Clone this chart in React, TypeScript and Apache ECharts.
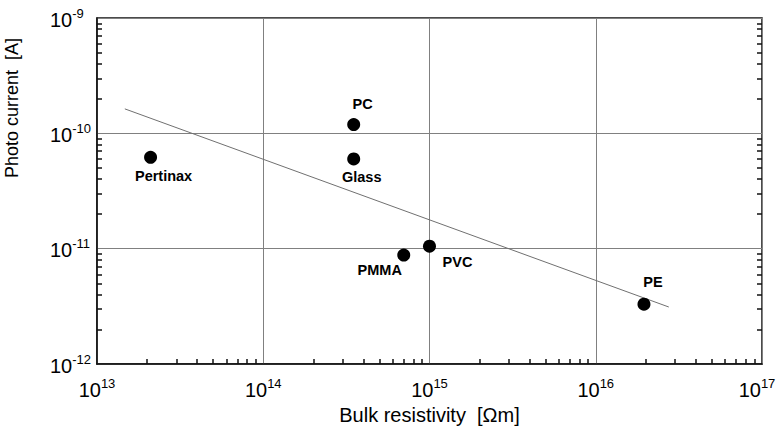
import React, { useEffect, useRef } from "react";
import * as echarts from "echarts";

const materials = ["Pertinax", "PC", "Glass", "PMMA", "PVC", "PE"];
const resistivity = [2.1e13, 3.5e14, 3.5e14, 7.0e14, 1.0e15, 1.95e16];
const photoCurrent = [6.2e-11, 1.19e-10, 6.0e-11, 8.8e-12, 1.05e-11, 3.3e-12];
const labelPos = ["bottom", "top", "bottom", "bottom", "bottom", "top"];
const labelOffset = [[13, 0], [9, -2], [8, -1], [-24, -4], [28, -3], [9, -3]];

const fitX = [1.47e13, 2.75e16];
const fitY = [1.63e-10, 3.12e-12];

const xDecades = [13, 14, 15, 16];
const yDecades = [-12, -11, -10];
const minorMult = [2, 3, 4, 5, 6, 7, 8, 9];

const X_MIN = 1e13, X_MAX = 1e17, Y_MIN = 1e-12, Y_MAX = 1e-9;

const FONT = "'Liberation Sans', Arial, Helvetica, sans-serif";

export default function App() {
  const ref = useRef<HTMLDivElement>(null);
  useEffect(() => {
    if (!ref.current) return;
    const chart = echarts.init(ref.current, null, { renderer: "svg" });

    const xMinor: number[] = [];
    xDecades.forEach((d) => minorMult.forEach((m) => xMinor.push(m * Math.pow(10, d))));
    const yMinor: number[] = [];
    yDecades.forEach((d) => minorMult.forEach((m) => yMinor.push(m * Math.pow(10, d))));

    const expLabel = (v: number) => {
      const e = Math.round(Math.log10(v));
      return e === 17 ? `{b|10}{s|${e}}{p|}` : `{b|10}{s|${e}}`;
    };
    const rich = {
      b: { fontSize: 20, fontFamily: FONT, color: "#000", padding: [3, 0, 0, 0] },
      s: { fontSize: 13, fontFamily: FONT, color: "#000", verticalAlign: "top" },
      p: { width: 10 },
    };
    const tickOnly = (vals: number[]) => ({
      show: true,
      inside: true,
      length: 5,
      customValues: vals,
      lineStyle: { color: "#111", width: 1.5 },
    });
    const hiddenParts = {
      axisLine: { show: false },
      axisLabel: { show: false },
      splitLine: { show: false },
      splitArea: { show: false },
    };

    const option: any = {
      animation: false,
      backgroundColor: "#fff",
      grid: {
        left: 97,
        right: 14,
        top: 18,
        bottom: 65,
        show: true,
        borderColor: "#111",
        borderWidth: 1.5,
        containLabel: false,
        outerBoundsMode: "none",
      },
      xAxis: [
        {
          type: "log",
          min: X_MIN,
          max: X_MAX,
          logBase: 10,
          name: "Bulk resistivity  [Ωm]",
          nameLocation: "middle",
          nameGap: 35,
          nameTextStyle: { fontSize: 20, fontFamily: FONT, color: "#000" },
          axisLine: { show: true, lineStyle: { color: "#111", width: 1.5 } },
          axisTick: { show: false },
          axisLabel: { formatter: expLabel, rich, margin: 13 },
          splitLine: { show: true, lineStyle: { color: "#808080", width: 1 } },
        },
        {
          type: "log",
          min: X_MIN,
          max: X_MAX,
          logBase: 10,
          position: "bottom",
          axisTick: tickOnly(xMinor),
          ...hiddenParts,
        },
      ],
      yAxis: [
        {
          type: "log",
          min: Y_MIN,
          max: Y_MAX,
          logBase: 10,
          position: "left",
          axisLine: { show: true, lineStyle: { color: "#111", width: 1.5 } },
          axisTick: { show: false },
          axisLabel: { formatter: expLabel, rich, margin: 47, align: "left" },
          splitLine: { show: true, lineStyle: { color: "#808080", width: 1 } },
        },
        {
          type: "log",
          min: Y_MIN,
          max: Y_MAX,
          logBase: 10,
          position: "left",
          axisTick: tickOnly(yMinor),
          ...hiddenParts,
        },
        {
          type: "log",
          min: Y_MIN,
          max: Y_MAX,
          logBase: 10,
          position: "right",
          axisTick: tickOnly(yMinor),
          ...hiddenParts,
        },
      ],
      graphic: [
        {
          type: "text",
          x: 12,
          y: 108,
          rotation: Math.PI / 2,
          style: {
            text: "Photo current  [A]",
            fontSize: 18,
            fontFamily: FONT,
            fill: "#000",
            textAlign: "center",
            textVerticalAlign: "middle",
          },
        },
      ],
      series: [
        {
          type: "line",
          xAxisIndex: 0,
          yAxisIndex: 0,
          data: fitX.map((x, i) => [x, fitY[i]]),
          showSymbol: false,
          symbol: "none",
          lineStyle: { color: "#707070", width: 1 },
          silent: true,
        },
        {
          type: "scatter",
          xAxisIndex: 0,
          yAxisIndex: 0,
          symbol: "circle",
          symbolSize: 13,
          itemStyle: { color: "#000", opacity: 1 },
          data: materials.map((m, i) => ({
            value: [resistivity[i], photoCurrent[i]],
            name: m,
            label: {
              show: true,
              formatter: m,
              position: labelPos[i],
              offset: labelOffset[i],
              distance: 5,
              fontSize: 14.5,
              fontWeight: "bold",
              fontFamily: FONT,
              color: "#000",
            },
          })),
          z: 5,
        },
      ],
    };
    chart.setOption(option);
    return () => chart.dispose();
  }, []);
  return (
    <div
      ref={ref}
      style={{ position: "fixed", left: 0, top: 0, width: 776, height: 429, background: "#fff" }}
    />
  );
}
